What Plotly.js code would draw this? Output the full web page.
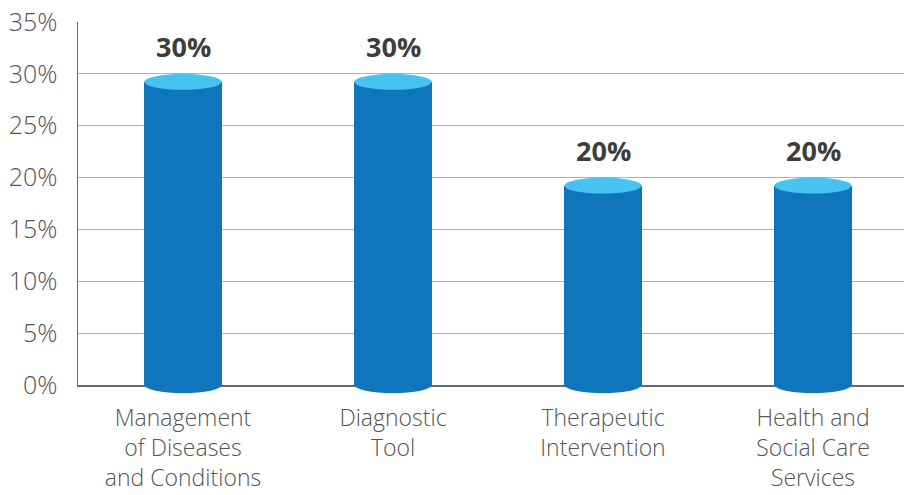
<!DOCTYPE html>
<html>
<head>
<meta charset="utf-8">
<script src="https://cdn.plot.ly/plotly-3.0.1.min.js"></script>
<style>html,body{margin:0;padding:0;background:#fff;}#chart{width:904px;height:495px;}</style>
</head>
<body>
<div id="chart"></div>
<script>
var categories = ["Management<br>of Diseases<br>and Conditions", "Diagnostic<br>Tool", "Therapeutic<br>Intervention", "Health and<br>Social Care<br>Services"];
var values = [30, 30, 20, 20];
var valueLabels = ["30%", "30%", "20%", "20%"];
var yTickVals = [0, 5, 10, 15, 20, 25, 30, 35];
var yTickText = ["0%", "5%", "10%", "15%", "20%", "25%", "30%", "35%"];

var W = 904, H = 495;
var margin = {l: 78, r: 0, t: 22, b: 110, pad: 0};
var yMax = 35;
var plotH = H - margin.t - margin.b;
var plotW = W - margin.l - margin.r;
var unitPx = 210;
var xRange = [-0.5, -0.5 + plotW / unitPx];
var barW = 0.367;
var ry = 8;
var dataPerPx = yMax / plotH;

var bodyColor = "#1076bc";
var topColor = "#46c3f1";

var xIdx = categories.map(function (c, i) { return i; });

var trace = {
  type: "bar",
  x: xIdx,
  y: values.map(function (v) { return v - ry * dataPerPx; }),
  width: barW,
  marker: {color: bodyColor, line: {width: 0}},
  hoverinfo: "skip"
};

var shapes = [];
values.forEach(function (v, i) {
  // bottom ellipse
  shapes.push({
    type: "circle", layer: "above",
    xref: "x", yref: "paper",
    ysizemode: "pixel", yanchor: 0,
    x0: i - barW / 2, x1: i + barW / 2,
    y0: -ry, y1: ry,
    fillcolor: bodyColor, line: {width: 0}
  });
  // top ellipse
  shapes.push({
    type: "circle", layer: "above",
    xref: "x", yref: "y",
    ysizemode: "pixel", yanchor: v,
    x0: i - barW / 2, x1: i + barW / 2,
    y0: -2 * ry, y1: 0,
    fillcolor: topColor, line: {width: 0}
  });
});

var annotations = values.map(function (v, i) {
  return {
    x: i, y: v, xref: "x", yref: "y",
    text: valueLabels[i], showarrow: false,
    yanchor: "middle", yshift: 27,
    font: {family: "Open Sans", size: 27, color: "#3d3d3d", weight: 700}
  };
});

var layout = {
  width: W, height: H,
  margin: margin,
  paper_bgcolor: "#fff", plot_bgcolor: "#fff",
  showlegend: false,
  bargap: 0,
  xaxis: {
    range: xRange,
    tickvals: xIdx, ticktext: categories,
    showgrid: false, zeroline: false,
    showline: true, linecolor: "#5d6d78", linewidth: 1.5,
    ticks: "", ticklabelstandoff: 12,
    layer: "below traces",
    tickfont: {family: "Open Sans", size: 23, color: "#555555", weight: 300},
    fixedrange: true
  },
  yaxis: {
    range: [0, yMax],
    tickvals: yTickVals, ticktext: yTickText,
    showgrid: true, gridcolor: "#a9b3b9", gridwidth: 1.2,
    zeroline: false,
    showline: true, linecolor: "#5d6d78", linewidth: 1.5,
    ticks: "", ticklabelstandoff: 14,
    layer: "below traces",
    tickfont: {family: "Open Sans", size: 25, color: "#555555", weight: 300},
    fixedrange: true
  },
  shapes: shapes,
  annotations: annotations
};

Plotly.newPlot("chart", [trace], layout, {displayModeBar: false, staticPlot: true});
</script>
</body>
</html>
